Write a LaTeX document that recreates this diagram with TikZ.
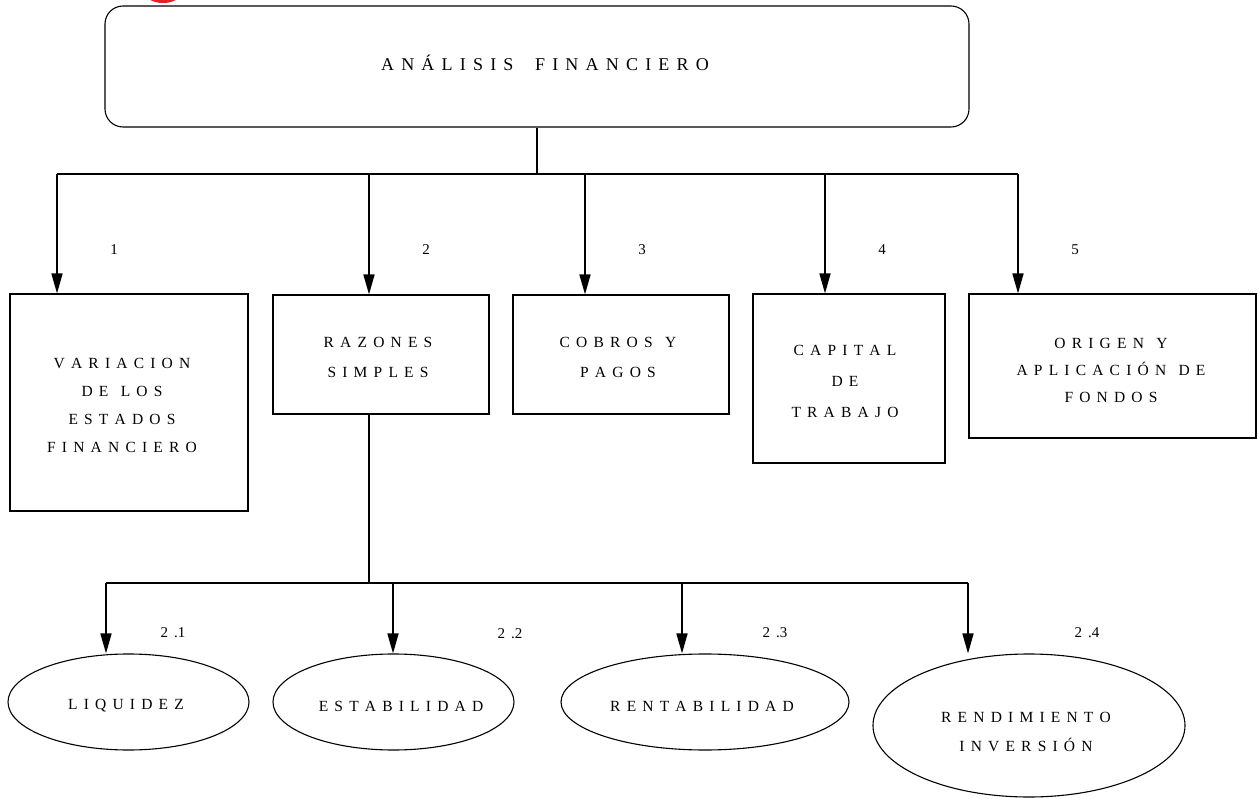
\documentclass[tikz,border=0pt]{standalone}
\usepackage{fontspec}
\setmainfont{Liberation Serif}[WordSpace=1.6]
\usetikzlibrary{arrows.meta,shapes.geometric}

\definecolor{markred}{RGB}{228,32,36}

\begin{document}
\begin{tikzpicture}[x=1pt,y=-1pt,
  blockbox/.style={draw,line width=1.1pt,inner sep=0pt},
  oval/.style={ellipse,draw,line width=1.1pt,inner sep=0pt},
  txt/.style={inner sep=0pt,align=center,font=\fontsize{15.5}{#1}\selectfont},
  conn/.style={line width=1.4pt},
  arrowline/.style={line width=1.6pt,-{Triangle[length=20pt,width=11pt]}},
  numlabel/.style={font=\fontsize{15}{20}\selectfont,inner sep=0pt}]
\useasboundingbox (0,0) rectangle (1259,799);

% red mark cut by the top edge
\begin{scope}
  \clip (0,0) rectangle (1259,799);
  \fill[markred] (163,-6) ellipse [x radius=17, y radius=9];
\end{scope}

% root
\node[blockbox,rounded corners=18pt,minimum width=864pt,minimum height=121pt] (top) at (537,66.5) {};
\node[inner sep=0pt,font=\fontsize{18}{24}\selectfont] (top-t) at (545,63)
  {A N Á L I S I S~~~F I N A N C I E R O};

% first level
\node[blockbox,minimum width=238pt,minimum height=217pt] (v1) at (129,402.5) {};
\node[blockbox,minimum width=216pt,minimum height=119pt] (v2) at (381,354.5) {};
\node[blockbox,minimum width=216pt,minimum height=119pt] (v3) at (621,354.5) {};
\node[blockbox,minimum width=192pt,minimum height=169pt] (v4) at (849,378.5) {};
\node[blockbox,minimum width=287pt,minimum height=144pt] (v5) at (1112.5,366) {};

\node[txt=28] (v1-t) at (122,405)
  {V A R I A C I O N\\D E~~L O S\\E S T A D O S\\F I N A N C I E R O};
\node[txt=30] (v2-t) at (378,357) {R A Z O N E S\\S I M P L E S};
\node[txt=30] (v3-t) at (618,357) {C O B R O S~~Y\\P A G O S};
\node[txt=31] (v4-t) at (845,381) {C A P I T A L\\D E\\T R A B A J O};
\node[txt=27] (v5-t) at (1111,370)
  {O R I G E N~~Y\\A P L I C A C I Ó N~~D E\\F O N D O S};

% second level
\node[oval,minimum width=241pt,minimum height=96pt] (e1) at (128.5,702) {};
\node[oval,minimum width=241pt,minimum height=96pt] (e2) at (393.5,702) {};
\node[oval,minimum width=288pt,minimum height=96pt] (e3) at (705,702) {};
\node[oval,minimum width=312pt,minimum height=143pt] (e4) at (1029,725.5) {};

\node[txt=20] (e1-t) at (126,706) {L I Q U I D E Z};
\node[txt=20] (e2-t) at (401,706) {E S T A B I L I D A D};
\node[txt=20] (e3-t) at (702,706) {R E N T A B I L I D A D};
\node[txt=29] (e4-t) at (1026,731.5) {R E N D I M I E N T O\\I N V E R S I Ó N};

% upper bus
\coordinate (j1) at (537,174);
\coordinate (t1) at (57,174);
\coordinate (t2) at (369,174);
\coordinate (t3) at (585,174);
\coordinate (t4) at (825,174);
\coordinate (t5) at (1018,174);
\draw[conn] (top.south) -- (j1);
\draw[conn] (t1) -- (t5);
\draw[arrowline] (t1) -- (t1 |- v1.north);
\draw[arrowline] (t2) -- (t2 |- v2.north);
\draw[arrowline] (t3) -- (t3 |- v3.north);
\draw[arrowline] (t4) -- (t4 |- v4.north);
\draw[arrowline] (t5) -- (t5 |- v5.north);

\node[numlabel] (n1) at (114,250) {1};
\node[numlabel] (n2) at (426,250) {2};
\node[numlabel] (n3) at (642,250) {3};
\node[numlabel] (n4) at (882,250) {4};
\node[numlabel] (n5) at (1075,250) {5};

% lower bus
\coordinate (j2) at (369,583);
\coordinate (b1) at (106,583);
\coordinate (b2) at (393,583);
\coordinate (b3) at (682,583);
\coordinate (b4) at (968,583);
\draw[conn] (v2.south -| j2) -- (j2);
\draw[conn] (b1) -- (b4);
\draw[arrowline] (b1) -- (b1 |- e1.north);
\draw[arrowline] (b2) -- (b2 |- e2.north);
\draw[arrowline] (b3) -- (b3 |- e3.north);
\draw[arrowline] (b4) -- (b4 |- e4.north);

\node[numlabel] (m1) at (173,633) {2 .1};
\node[numlabel] (m2) at (510,634) {2 .2};
\node[numlabel] (m3) at (775,633) {2 .3};
\node[numlabel] (m4) at (1087,633) {2 .4};
\end{tikzpicture}
\end{document}
